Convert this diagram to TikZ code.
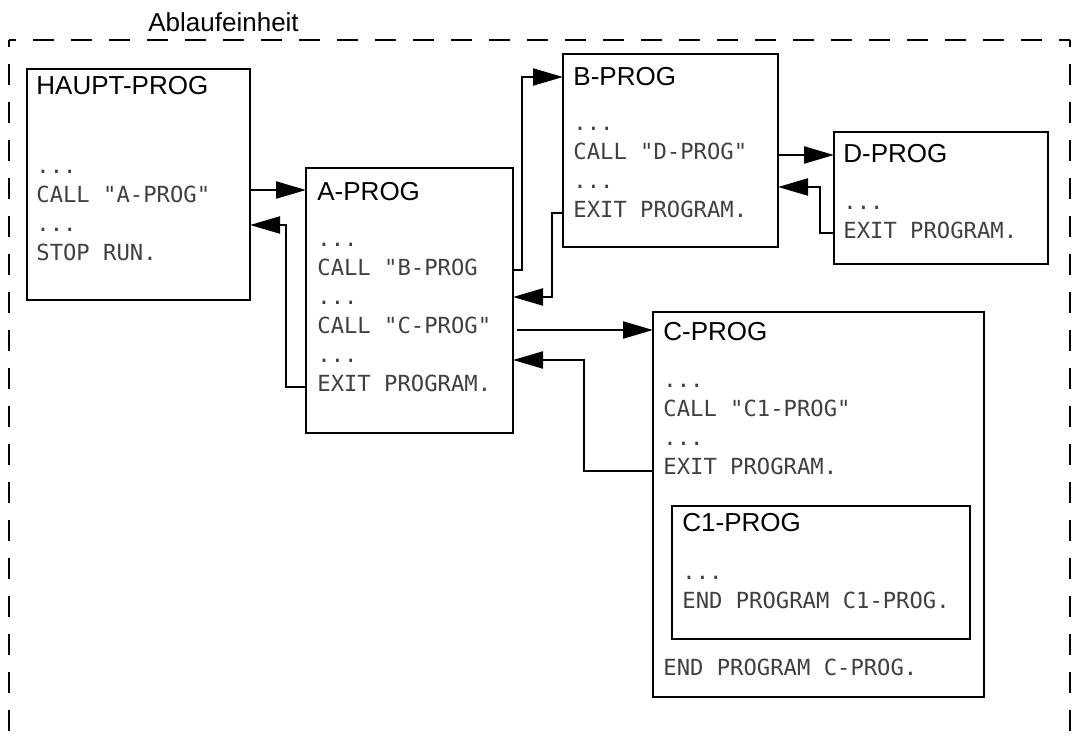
\documentclass[tikz,border=0pt]{standalone}
\usepackage{fontspec}
\setmainfont{Liberation Sans}
\newfontfamily\monof{DejaVu Sans Mono}
\usetikzlibrary{fit,arrows.meta}
\begin{document}
\begin{tikzpicture}[x=0.5pt,y=-0.5pt,
  box/.style={draw,line width=1.2pt,inner sep=0pt,outer sep=0pt},
  head/.style={anchor=base west,inner sep=0pt,font=\fontsize{13pt}{15pt}\selectfont},
  code/.style={anchor=base west,inner sep=0pt,font=\monof\fontsize{11.1pt}{13pt}\selectfont,text=black!75},
  conn/.style={line width=1.1pt,-{Triangle[length=15pt,width=8.5pt]}},
  frameline/.style={line width=1.2pt,dash pattern=on 10.5pt off 8.5pt,dash phase=7pt}]
\useasboundingbox (0,0) rectangle (1074,744);
% frame
\coordinate (ftl) at (9,40);
\coordinate (ftr) at (1070,40);
\coordinate (fbl) at (9,770);
\coordinate (fbr) at (1070,770);
\draw[frameline] (ftl) -- (ftr);
\draw[frameline] (ftl) -- (fbl);
\draw[frameline] (ftr) -- (fbr);
\node[head] (lbl) at (148,31) {Ablaufeinheit};
% boxes
\node[box,fit={(27,69) (250,300)}] (haupt) {};
\node[box,fit={(306,168) (513,433)}] (aprog) {};
\node[box,fit={(563,54) (778,247)}] (bprog) {};
\node[box,fit={(834,132) (1048,264)}] (dprog) {};
\node[box,fit={(653,312) (984,697)}] (cprog) {};
\node[box,fit={(672,506) (970,639)}] (c1prog) {};
% HAUPT
\node[head] (h0) at (36,94) {HAUPT-PROG};
\node[code] (h1) at (36,173) {...};
\node[code] (h2) at (36,202) {CALL "A-PROG"};
\node[code] (h3) at (36,231) {...};
\node[code] (h4) at (36,260) {STOP RUN.};
% A
\node[head] (a0) at (317,200) {A-PROG};
\node[code] (a1) at (317,246) {...};
\node[code] (a2) at (317,275) {CALL "B-PROG};
\node[code] (a3) at (317,304) {...};
\node[code] (a4) at (317,333) {CALL "C-PROG"};
\node[code] (a5) at (317,362) {...};
\node[code] (a6) at (317,391) {EXIT PROGRAM.};
% B
\node[head] (b0) at (573,85) {B-PROG};
\node[code] (b1) at (573,130) {...};
\node[code] (b2) at (573,159) {CALL "D-PROG"};
\node[code] (b3) at (573,188) {...};
\node[code] (b4) at (573,217) {EXIT PROGRAM.};
% D
\node[head] (d0) at (843,162) {D-PROG};
\node[code] (d1) at (843,209) {...};
\node[code] (d2) at (843,238) {EXIT PROGRAM.};
% C
\node[head] (c0) at (663,340) {C-PROG};
\node[code] (c1) at (663,387) {...};
\node[code] (c2) at (663,416) {CALL "C1-PROG"};
\node[code] (c3) at (663,445) {...};
\node[code] (c4) at (663,474) {EXIT PROGRAM.};
\node[code] (c5) at (663,675) {END PROGRAM C-PROG.};
% C1
\node[head] (e0) at (682,531) {C1-PROG};
\node[code] (e1) at (682,579) {...};
\node[code] (e2) at (682,608) {END PROGRAM C1-PROG.};
% connectors
\draw[conn] (haupt.east |- 0,190) -- (aprog.west |- 0,190);
\draw[conn] (aprog.west |- 0,387) -- (286,387) -- (286,225) -- (haupt.east |- 0,225);
\draw[conn] (aprog.east |- 0,270) -- (522,270) -- (522,77) -- (bprog.west |- 0,77);
\draw[conn] (bprog.west |- 0,213) -- (552,213) -- (552,297) -- (aprog.east |- 0,297);
\draw[conn] (bprog.east |- 0,155) -- (dprog.west |- 0,155);
\draw[conn] (dprog.west |- 0,233) -- (820,233) -- (820,187) -- (bprog.east |- 0,187);
\draw[conn] ([xshift=2pt]aprog.east |- 0,330) -- (cprog.west |- 0,330);
\draw[conn] (cprog.west |- 0,471) -- (584,471) -- (584,360) -- (aprog.east |- 0,360);
\end{tikzpicture}
\end{document}
